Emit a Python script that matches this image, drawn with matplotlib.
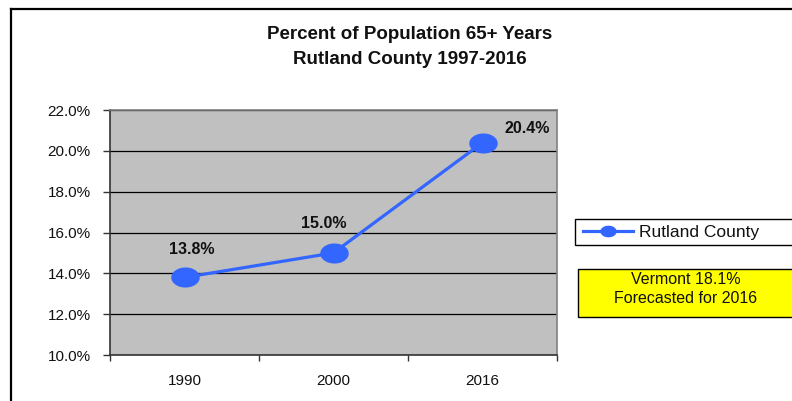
import matplotlib
matplotlib.use("Agg")
import matplotlib.pyplot as plt
import numpy as np
from matplotlib.path import Path
from matplotlib.lines import Line2D
from matplotlib.patches import Rectangle

plt.rcParams['font.family'] = ['Liberation Sans', 'DejaVu Sans']

categories = ["1990", "2000", "2016"]
values = [13.8, 15.0, 20.4]
value_labels = ["13.8%", "15.0%", "20.4%"]
y_ticks = [10, 12, 14, 16, 18, 20, 22]
series_name = "Rutland County"
note_text = "Vermont 18.1%\nForecasted for 2016"
title_text = "Percent of Population 65+ Years\nRutland County 1997-2016"

W, H = 792, 401
fig = plt.figure(figsize=(W / 100, H / 100), dpi=100)
fig.patch.set_facecolor("white")


def fx(px):
    return px / W


def fy(py):
    return 1 - py / H


ax = fig.add_axes([fx(110), fy(355), (557 - 110) / W, (355 - 110) / H])
ax.set_facecolor("#C0C0C0")

blue = "#3366FF"
t = np.linspace(0, 2 * np.pi, 60)
ell = Path(np.column_stack([1.45 * np.cos(t), np.sin(t)]), closed=True)

x = np.arange(len(categories))
line, = ax.plot(x, values, color=blue, lw=2.3, marker=ell, markersize=19.5,
                markerfacecolor=blue, markeredgecolor=blue, zorder=3,
                label=series_name, clip_on=False)

ax.set_xlim(-0.5, len(categories) - 0.5)
ax.set_ylim(10, 22)
ax.set_yticks(y_ticks)
ax.set_yticklabels([f"{v:.1f}%" for v in y_ticks])
ax.yaxis.grid(True, color="black", lw=0.9)
ax.set_axisbelow(True)

ax.set_xticks(x)
ax.set_xticklabels(categories)
ax.set_xticks(np.arange(-0.5, len(categories), 1.0), minor=True)
ax.tick_params(axis="x", which="major", length=0, pad=14, labelsize=11)
ax.tick_params(axis="x", which="minor", length=4, width=1, color="#333333")
ax.tick_params(axis="y", length=5, width=1, color="#333333", pad=9, labelsize=11)

for lab in ax.get_xticklabels() + ax.get_yticklabels():
    lab.set_color("#111111")

ax.spines["left"].set_color("#333333")
ax.spines["bottom"].set_color("#333333")
ax.spines["top"].set_color("#808080")
ax.spines["right"].set_color("#808080")
for s in ax.spines.values():
    s.set_linewidth(1.2)

offsets = [(5, 20), (-7, 21), (32, 10)]
for xi, v, lab, off in zip(x, values, value_labels, offsets):
    ax.annotate(lab, (xi, v), xytext=off, textcoords="offset points",
                ha="center", va="center", fontsize=11.5, fontweight="bold",
                color="#111111", annotation_clip=False)

fig.text(fx(410), fy(47), title_text, ha="center", va="center",
         fontsize=13.5, fontweight="bold", color="#111111", linespacing=1.55)

# legend frame extends past the right edge, as in the reference
fig.add_artist(Rectangle((fx(575), fy(245)), (810 - 575) / W, 26 / H,
                         transform=fig.transFigure, facecolor="white",
                         edgecolor="black", lw=1.0, zorder=1))
leg = fig.legend(handles=[line], loc="center left",
                 bbox_to_anchor=(fx(574), fy(232)),
                 frameon=False, fontsize=12.5, handlelength=2.9,
                 handletextpad=0.35, borderpad=0.0, markerscale=0.55)
leg.set_zorder(2)
for txt in leg.get_texts():
    txt.set_color("#111111")

fig.add_artist(Rectangle((fx(578), fy(317)), (810 - 578) / W, 48 / H,
                         transform=fig.transFigure, facecolor="#FFFF00",
                         edgecolor="black", lw=1.0, zorder=1))
fig.text(fx(686), fy(289), note_text, ha="center", va="center",
         fontsize=11.5, color="#111111", linespacing=1.3, zorder=2)

fig.add_artist(Line2D([fx(11), 1], [fy(8.5), fy(8.5)],
                      transform=fig.transFigure, color="black", lw=1.6))
fig.add_artist(Line2D([fx(11), fx(11)], [0, fy(8.5)],
                      transform=fig.transFigure, color="black", lw=1.6))

fig.savefig("out.png", dpi=100)
